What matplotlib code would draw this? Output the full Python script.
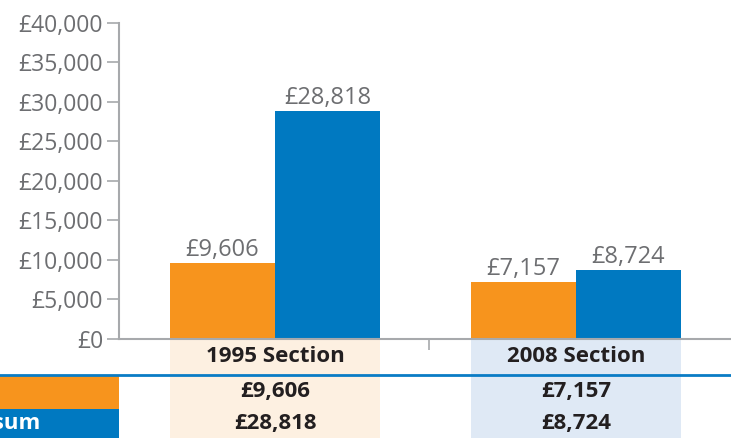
import matplotlib.pyplot as plt
from matplotlib.patches import Rectangle
from matplotlib.lines import Line2D
from matplotlib.ticker import FuncFormatter

# Data
sections = ["1995 Section", "2008 Section"]
pension = [9606, 7157]
lump_sum = [28818, 8724]
series_names = ["Pension", "Lump sum"]

ORANGE = "#f7941d"
BLUE = "#0079c1"
LIGHT_ORANGE = "#fdf0e1"
LIGHT_BLUE = "#dfe9f5"
GREY_TEXT = "#6d6e71"
AXIS_GREY = "#a7a9ac"
DARK = "#231f20"

plt.rcParams["font.family"] = ["Open Sans", "DejaVu Sans"]

W, H = 731, 438
fig = plt.figure(figsize=(W / 100, H / 100), dpi=100)

# main chart area, in pixels
ax = fig.add_axes([119 / W, (H - 339) / H, (W - 119) / W, (339 - 22.7) / H])
x = list(range(len(sections)))
bw = 0.348
b1 = ax.bar([i - bw / 2 for i in x], pension, bw, color=ORANGE)
b2 = ax.bar([i + bw / 2 for i in x], lump_sum, bw, color=BLUE)
for bars in (b1, b2):
    ax.bar_label(bars, labels=[f"£{v:,.0f}" for v in bars.datavalues],
                 padding=1, fontsize=17, color=GREY_TEXT)

xlim = (-0.518, 1.515)
ax.set_xlim(xlim)
ax.set_ylim(0, 40000)
ax.set_yticks(range(0, 40001, 5000))
ax.yaxis.set_major_formatter(FuncFormatter(lambda v, p: f"£{v:,.0f}"))
ax.tick_params(axis="y", length=8.5, width=1.2, color=AXIS_GREY,
               labelsize=16.5, labelcolor=GREY_TEXT, pad=3)
ax.set_xticks([])
ax.set_xticks([0.512], minor=True)
ax.tick_params(axis="x", which="minor", length=8, width=1.2, color=AXIS_GREY,
               labelbottom=False)
for s in ("top", "right"):
    ax.spines[s].set_visible(False)
for s in ("left", "bottom"):
    ax.spines[s].set_color(AXIS_GREY)
    ax.spines[s].set_linewidth(1.5)
ax.patch.set_visible(False)

# table below the chart
tab = fig.add_axes([119 / W, 0, (W - 119) / W, 98 / H])
tab.set_xlim(xlim)
tab.set_ylim(0, 98)
tab.axis("off")
tab.set_zorder(-1)
col_colors = [LIGHT_ORANGE, LIGHT_BLUE]
for i, name in enumerate(sections):
    tab.bar(i, 98, 2 * bw, bottom=0, color=col_colors[i], linewidth=0)
    tab.text(i, 81, name, ha="center", va="center", fontsize=16,
             fontweight="bold", color=DARK)
    tab.text(i, 46, f"£{pension[i]:,.0f}", ha="center", va="center",
             fontsize=16, fontweight="bold", color=DARK)
    tab.text(i, 15, f"£{lump_sum[i]:,.0f}", ha="center", va="center",
             fontsize=16, fontweight="bold", color=DARK)

# row keys and divider line
fig.add_artist(Line2D([0, 1], [63 / H, 63 / H], color="#0a7cc5", lw=2,
                      transform=fig.transFigure))
fig.add_artist(Rectangle((0, 29 / H), 119 / W, 33 / H, color=ORANGE,
                         transform=fig.transFigure, lw=0))
fig.add_artist(Rectangle((0, 0), 119 / W, 29 / H, color=BLUE,
                         transform=fig.transFigure, lw=0))
fig.text(40 / W, 15 / H, series_names[1], ha="right", va="center",
         fontsize=16, fontweight="bold", color="white")

fig.savefig("out.png", dpi=100)
